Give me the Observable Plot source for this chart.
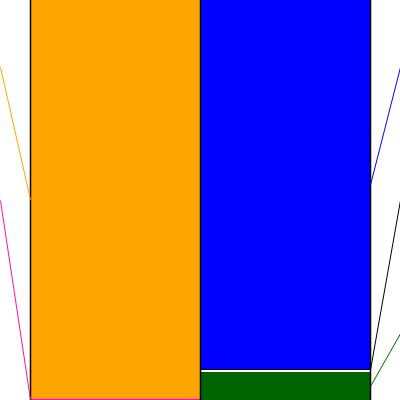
<!DOCTYPE html>
<html>
<head>
<meta charset="utf-8">
<script src="https://cdn.jsdelivr.net/npm/d3@7"></script>
<script src="https://cdn.jsdelivr.net/npm/@observablehq/plot@0.6"></script>
<style>
  html, body { margin: 0; padding: 0; background: #fff; }
  svg { display: block; }
</style>
</head>
<body>
<div id="chart"></div>
<script>
// Two stacked columns (percent shares), bottom segment first
const leftLabels  = ["pink", "orange"];
const leftValues  = [0.4, 99.6];
const leftColors  = ["#FF1493", "#FFA500"];
const leftTargets = [50, 83.3];          // neighbour positions (percent) reached by connector lines

const rightLabels  = ["green", "white", "black", "blue"];
const rightValues  = [7.0, 0.5, 0.25, 92.25];
const rightColors  = ["#006400", "#FFFFFF", "#000000", "#0000FF"];
const rightTargets = [16.7, null, 50, 83.3];

const columns = [0, 1];                  // column index
const gap = 30 / 170;                    // connector span relative to column width

function build(col, labels, values, colors, targets) {
  let acc = 0;
  return labels.map((l, k) => {
    const y1 = acc; acc += values[k];
    return {col, label: l, value: values[k], color: colors[k], y1, y2: acc, mid: (y1 + acc) / 2, target: targets[k]};
  });
}
const leftData = build(0, leftLabels, leftValues, leftColors, leftTargets);
const rightData = build(1, rightLabels, rightValues, rightColors, rightTargets);
const segs = [...leftData, ...rightData];

const leftLinks = leftData.filter(d => d.target != null);
const rightLinks = rightData.filter(d => d.target != null && d.label !== "white");

const chart = Plot.plot({
  width: 400,
  height: 400,
  margin: 0,
  x: {domain: [-gap, columns.length + gap], axis: null},
  y: {domain: [0, 100], axis: null},
  style: {background: "#fff"},
  marks: [
    Plot.rect(segs, {x1: "col", x2: d => d.col + 1, y1: "y1", y2: "y2", fill: "color"}),
    Plot.ruleX([0, 1, 2], {stroke: "#000", strokeWidth: 1.5}),
    Plot.link(leftLinks, {x1: -gap, y1: "target", x2: 0, y2: "mid", stroke: "color", strokeWidth: 1}),
    Plot.link(rightLinks, {x1: 2, y1: "mid", x2: 2 + gap, y2: "target", stroke: "color", strokeWidth: 1})
  ]
});
document.getElementById("chart").appendChild(chart);
</script>
</body>
</html>
